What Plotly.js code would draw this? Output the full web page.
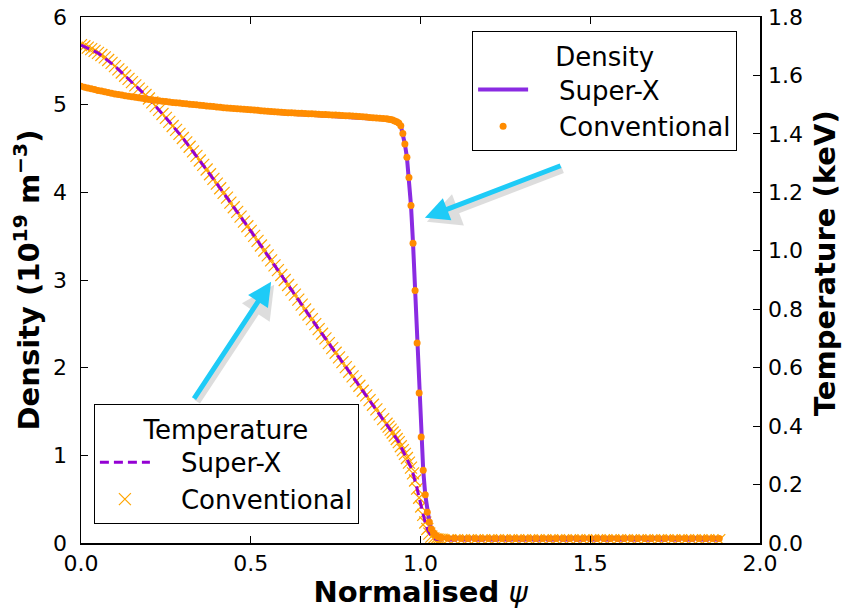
<!DOCTYPE html>
<html>
<head>
<meta charset="utf-8">
<script src="https://cdn.plot.ly/plotly-3.0.1.min.js"></script>
<style>html,body{margin:0;padding:0;background:#fff;}#chart{width:850px;height:609px;}</style>
</head>
<body>
<div id="chart"></div>
<script>
// ---- Data ----
// Super-X (line traces)
const sxPsi = [0,0.05,0.1,0.15,0.2,0.25,0.3,0.4,0.5,0.6,0.7,0.8,0.9,0.918,0.93,0.936,
  0.942,0.948,0.954,0.96,0.966,0.972,0.978,0.984,0.99,0.996,1.002,1.008,1.014,1.02,1.026,1.032,1.038,1.044,1.05,
  1.062,1.1,1.3,1.5,1.7,1.88];
const sxDensity = [5.21,5.16,5.12,5.09,5.06,5.04,5.01,4.97,4.93,4.90,4.88,4.86,4.83,4.82,4.80,4.79,
  4.76,4.67,4.55,4.40,4.17,3.85,3.42,2.88,2.28,1.71,1.21,0.83,0.55,0.35,0.24,0.16,0.12,0.09,0.075,
  0.06,0.05,0.05,0.05,0.05,0.05];
const sxTemp = [1.704,1.677,1.632,1.577,1.521,1.455,1.386,1.230,1.068,0.900,0.732,0.570,0.408,0.378,0.356,0.345,
  0.331,0.318,0.305,0.291,0.275,0.258,0.238,0.214,0.186,0.155,0.125,0.096,0.070,0.048,0.032,0.022,0.016,0.013,0.012,
  0.011,0.010,0.010,0.010,0.010,0.010];

// Conventional (marker traces, on the psi grid)
const convPsi = [
  0.00,0.01,0.02,0.03,0.04,0.05,0.06,0.07,0.08,0.09,
  0.10,0.11,0.12,0.13,0.14,0.15,0.16,0.17,0.18,0.19,
  0.20,0.21,0.22,0.23,0.24,0.25,0.26,0.27,0.28,0.29,
  0.30,0.31,0.32,0.33,0.34,0.35,0.36,0.37,0.38,0.39,
  0.40,0.41,0.42,0.43,0.44,0.45,0.46,0.47,0.48,0.49,
  0.50,0.51,0.52,0.53,0.54,0.55,0.56,0.57,0.58,0.59,
  0.60,0.61,0.62,0.63,0.64,0.65,0.66,0.67,0.68,0.69,
  0.70,0.71,0.72,0.73,0.74,0.75,0.76,0.77,0.78,0.79,
  0.80,0.81,0.82,0.83,0.84,0.85,0.86,0.87,0.88,0.89,
  0.90,
  0.906,0.912,0.918,0.924,0.930,0.936,0.942,0.948,0.954,0.960,0.966,0.972,0.978,0.984,0.990,0.996,
  1.002,1.008,1.014,1.020,1.026,1.032,1.038,1.044,1.050,1.056,1.062,
  1.08,1.10,1.12,1.14,1.16,1.18,1.20,1.22,1.24,1.26,1.28,1.30,1.32,1.34,1.36,1.38,1.40,1.42,1.44,1.46,
  1.48,1.50,1.52,1.54,1.56,1.58,1.60,1.62,1.64,1.66,1.68,1.70,1.72,1.74,1.76,1.78,1.80,1.82,1.84,1.86,1.88];
const convDensity = [
  5.210,5.200,5.190,5.181,5.172,5.163,5.155,5.147,5.139,5.131,
  5.123,5.116,5.109,5.102,5.096,5.090,5.084,5.078,5.072,5.066,
  5.060,5.055,5.050,5.045,5.040,5.035,5.030,5.026,5.022,5.018,
  5.014,5.010,5.006,5.002,4.998,4.994,4.990,4.986,4.982,4.978,
  4.974,4.970,4.966,4.962,4.959,4.956,4.953,4.950,4.947,4.944,
  4.941,4.938,4.935,4.932,4.929,4.926,4.923,4.920,4.917,4.914,
  4.911,4.909,4.907,4.905,4.903,4.901,4.899,4.897,4.895,4.893,
  4.891,4.889,4.887,4.885,4.883,4.881,4.879,4.877,4.875,4.873,
  4.870,4.867,4.864,4.861,4.858,4.855,4.852,4.849,4.846,4.843,
  4.840,
  4.835,4.830,4.825,4.815,4.805,4.790,4.760,4.670,4.550,4.400,4.170,3.850,3.420,2.880,2.280,1.710,
  1.210,0.830,0.550,0.350,0.240,0.160,0.120,0.090,0.075,0.065,0.060,
  0.055,0.055,0.05,0.05,0.05,0.05,0.05,0.05,0.05,0.05,0.05,0.05,0.05,0.05,0.05,0.05,0.05,0.05,0.05,0.05,
  0.05,0.05,0.05,0.05,0.05,0.05,0.05,0.05,0.05,0.05,0.05,0.05,0.05,0.05,0.05,0.05,0.05,0.05,0.05,0.05,0.05];
const convTemp = [
  1.704,1.700,1.695,1.690,1.684,1.677,1.670,1.662,1.653,1.643,
  1.632,1.621,1.610,1.599,1.588,1.577,1.566,1.555,1.544,1.533,
  1.521,1.508,1.495,1.482,1.468,1.455,1.441,1.427,1.414,1.400,
  1.386,1.371,1.356,1.340,1.325,1.309,1.294,1.278,1.262,1.246,
  1.230,1.214,1.198,1.182,1.165,1.149,1.133,1.117,1.100,1.084,
  1.068,1.051,1.034,1.018,1.001,0.984,0.967,0.950,0.934,0.917,
  0.900,0.883,0.866,0.850,0.833,0.816,0.799,0.782,0.766,0.749,
  0.732,0.716,0.700,0.684,0.667,0.651,0.635,0.619,0.602,0.586,
  0.570,0.554,0.538,0.521,0.505,0.489,0.473,0.457,0.440,0.424,
  0.408,
  0.398,0.388,0.378,0.368,0.356,0.345,0.331,0.318,0.305,0.291,0.275,0.258,0.238,0.214,0.186,0.155,
  0.125,0.096,0.070,0.048,0.032,0.022,0.016,0.013,0.012,0.011,0.011,
  0.010,0.010,0.010,0.010,0.010,0.010,0.010,0.010,0.010,0.010,0.010,0.010,0.010,0.010,0.010,0.010,0.010,0.010,0.010,0.010,
  0.010,0.010,0.010,0.010,0.010,0.010,0.010,0.010,0.010,0.010,0.010,0.010,0.010,0.010,0.010,0.010,0.010,0.010,0.010,0.010,0.010];

const xTicks = [0, 0.5, 1.0, 1.5, 2.0];
const densityTicks = [0, 1, 2, 3, 4, 5, 6];
const tempTicks = [0, 0.2, 0.4, 0.6, 0.8, 1.0, 1.2, 1.4, 1.6, 1.8];

// ---- Traces ----
const FONT = 'DejaVu Sans, Bitstream Vera Sans, sans-serif';
const PAD = '\u2002\u2002'; // gap between legend symbol and label
const traces = [
  { // temperature, conventional (x markers) -> base y axis (right side)
    x: convPsi, y: convTemp, type: 'scatter', mode: 'markers', name: PAD + 'Conventional',
    yaxis: 'y', legend: 'legend2', legendrank: 2,
    marker: {symbol: 'x-thin', size: 12, color: '#FFA500', line: {color: '#FFA500', width: 1.2}}
  },
  { // temperature, Super-X (dashed)
    x: sxPsi, y: sxTemp, type: 'scatter', mode: 'lines', name: PAD + 'Super-X',
    yaxis: 'y', legend: 'legend2', legendrank: 1,
    line: {color: '#9400D3', width: 3, dash: '9px,5px'}
  },
  { // density, Super-X (solid) -> overlay y2 (left side)
    x: sxPsi, y: sxDensity, type: 'scatter', mode: 'lines', name: PAD + 'Super-X',
    yaxis: 'y2', legend: 'legend', legendrank: 1,
    line: {color: '#8A2BE2', width: 4}
  },
  { // density, conventional (dots)
    x: convPsi, y: convDensity, type: 'scatter', mode: 'markers', name: PAD + 'Conventional',
    yaxis: 'y2', legend: 'legend', legendrank: 2,
    marker: {symbol: 'circle', size: 7, color: '#FF8C00', line: {width: 0}}
  }
];

const arrowColor = '#1ECBF7';
const shadow = 'rgba(0,0,0,0.13)';
function arrow(xh, yh, xt, yt, col, w, dx, dy) {
  return {x: xh, y: yh, ax: xt, ay: yt, xref: 'x', yref: 'y2', axref: 'x', ayref: 'y2',
    text: '', showarrow: true, arrowhead: 2, arrowsize: 0.95, arrowwidth: w, arrowcolor: col,
    standoff: 0, startstandoff: 0, xshift: dx, yshift: dy};
}

const layout = {
  width: 850, height: 609,
  margin: {l: 81, r: 90, t: 17, b: 66, pad: 0},
  paper_bgcolor: '#fff', plot_bgcolor: '#fff',
  font: {family: FONT, color: '#000', size: 22},
  showlegend: true,
  xaxis: {
    range: [0, 2], tickvals: xTicks, ticktext: xTicks.map(v => v.toFixed(1)),
    ticks: 'inside', ticklen: 7, tickwidth: 1, tickcolor: '#000',
    showline: true, linecolor: '#000', linewidth: 1.5, mirror: 'ticks',
    showgrid: false, zeroline: false, automargin: false,
    tickfont: {size: 22},
    title: {text: '<b>Normalised</b> <i>ψ</i>', font: {size: 29}, standoff: 10}
  },
  yaxis: {
    range: [0, 1.8], tickvals: tempTicks, ticktext: tempTicks.map(v => v.toFixed(1)),
    side: 'right', ticks: 'inside', ticklen: 7, tickwidth: 1, tickcolor: '#000',
    showline: true, linecolor: '#000', linewidth: 1.5,
    showgrid: false, zeroline: false, automargin: false,
    tickfont: {size: 22}, ticklabelstandoff: 2
  },
  yaxis2: {
    range: [0, 6], tickvals: densityTicks, ticktext: densityTicks.map(v => String(v)),
    overlaying: 'y', side: 'left', ticks: 'inside', ticklen: 7, tickwidth: 1, tickcolor: '#000',
    showline: true, linecolor: '#000', linewidth: 1.5,
    showgrid: false, zeroline: false, automargin: false,
    tickfont: {size: 22}, ticklabelstandoff: 8,
    title: {text: '<b>Density (10<sup>19</sup> m<sup>−3</sup>)</b>', font: {size: 29}, standoff: 5}
  },
  legend: {
    x: 0.576, y: 0.973, xanchor: 'left', yanchor: 'top',
    bgcolor: '#fff', bordercolor: '#000', borderwidth: 1,
    font: {size: 26, family: FONT}, itemwidth: 50,
    title: {text: 'Density', side: 'top center', font: {size: 26, family: FONT}},
    traceorder: 'normal', tracegroupgap: 0
  },
  legend2: {
    x: 0.019, y: 0.264, xanchor: 'left', yanchor: 'top',
    bgcolor: '#fff', bordercolor: '#000', borderwidth: 1,
    font: {size: 26, family: FONT}, itemwidth: 50,
    title: {text: 'Temperature', side: 'top center', font: {size: 26, family: FONT}},
    traceorder: 'normal', tracegroupgap: 0
  },
  annotations: [
    arrow(1.013, 3.71, 1.417, 4.31, shadow, 7, 2, -4),
    arrow(0.56, 2.98, 0.33, 1.63, shadow, 7, 3, -3),
    arrow(1.013, 3.71, 1.417, 4.31, arrowColor, 5, 0, 0),
    arrow(0.56, 2.98, 0.33, 1.63, arrowColor, 5, 0, 0),
    { // right axis title
      text: '<b>Temperature (keV)</b>', xref: 'paper', yref: 'paper',
      x: 1.0957, y: 0.532, xanchor: 'center', yanchor: 'middle', textangle: -90,
      showarrow: false, font: {size: 29, family: FONT, color: '#000'}
    }
  ]
};

Plotly.newPlot('chart', traces, layout, {staticPlot: true, displayModeBar: false});
</script>
</body>
</html>
